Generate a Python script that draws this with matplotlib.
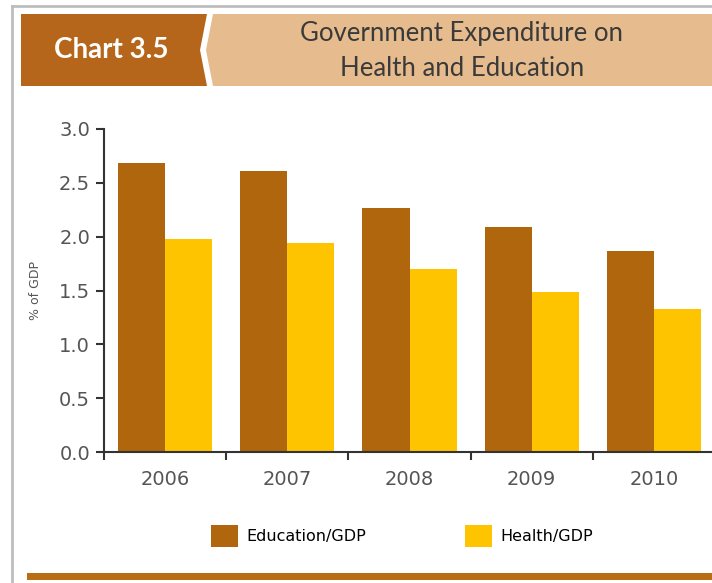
import numpy as np
import matplotlib.pyplot as plt
from matplotlib.patches import Polygon
from matplotlib.lines import Line2D

# Дані
years = ["2006", "2007", "2008", "2009", "2010"]
education = [2.68, 2.61, 2.27, 2.09, 1.87]
health = [1.98, 1.94, 1.70, 1.49, 1.33]

edu_color = "#B0660C"
health_color = "#FFC400"
text_color = "#555555"

fig = plt.figure(figsize=(7.12, 5.83), dpi=100)
W, H = 712, 583


def fx(px):
    return px / W


def fy(py):
    return 1 - py / H


def fpoly(points, color):
    """ Багатокутник у піксельних координатах фігури"""
    pts = [(fx(a), fy(b)) for a, b in points]
    fig.add_artist(Polygon(pts, closed=True, color=color, lw=0,
                           transform=fig.transFigure))


# Рамка
fig.add_artist(Line2D([fx(12), fx(12)], [fy(6), 0], color="#BDBDBD", lw=2))
fig.add_artist(Line2D([fx(12), 1], [fy(6), fy(6)], color="#BDBDBD", lw=2))

# Заголовок
fpoly([(21, 14), (207, 14), (200, 50), (207, 86), (21, 86)], "#B5661A")
fpoly([(213, 14), (712, 14), (712, 86), (213, 86), (206, 50)], "#E6BC8E")
fig.text(fx(111), fy(50), "Chart 3.5", color="white", fontsize=20,
         fontweight="bold", ha="center", va="center", family="Lato")
fig.text(fx(462), fy(51), "Government Expenditure on\nHealth and Education",
         color="#3A3A3A", fontsize=18.5, ha="center", va="center",
         family="Lato", linespacing=1.45)

# Нижня смуга
fpoly([(27, 573), (712, 573), (712, 580), (27, 580)], "#B86E12")

# Графік
ax = fig.add_axes([fx(104), fy(452), 1 - fx(104), fy(129) - fy(452)])
x = np.arange(len(years))
w = 0.385
ax.bar(x - w / 2, education, w, color=edu_color, label="Education/GDP")
ax.bar(x + w / 2, health, w, color=health_color, label="Health/GDP")

ax.set_ylim(0, 3.0)
ax.set_xlim(-0.5, 4.475)
ax.set_yticks(np.arange(0, 3.01, 0.5))
ax.set_yticklabels([f"{v:.1f}" for v in np.arange(0, 3.01, 0.5)])
ax.set_xticks(np.arange(-0.5, 4.5, 1.0))
ax.set_xticklabels([])
ax.set_xticks(x, minor=True)
ax.set_xticklabels(years, minor=True)
ax.tick_params(axis="x", which="minor", length=0, pad=13,
               labelsize=14, labelcolor=text_color)
ax.tick_params(axis="x", which="major", length=6, width=1.5, color="#333333")
ax.tick_params(axis="y", length=6, width=1.5, color="#333333",
               labelsize=14, labelcolor=text_color, pad=4)
for s in ["top", "right"]:
    ax.spines[s].set_visible(False)
for s in ["left", "bottom"]:
    ax.spines[s].set_linewidth(1.5)
    ax.spines[s].set_color("#333333")
ax.set_ylabel("% of GDP", fontsize=9, color=text_color, labelpad=12)

# Легенда
fig.legend(loc="center", bbox_to_anchor=(fx(402), fy(536)), ncol=2,
           frameon=False, fontsize=11.5, handlelength=1.7, handleheight=1.8,
           columnspacing=6.2, handletextpad=0.5)

fig.savefig("out.png", dpi=100)
